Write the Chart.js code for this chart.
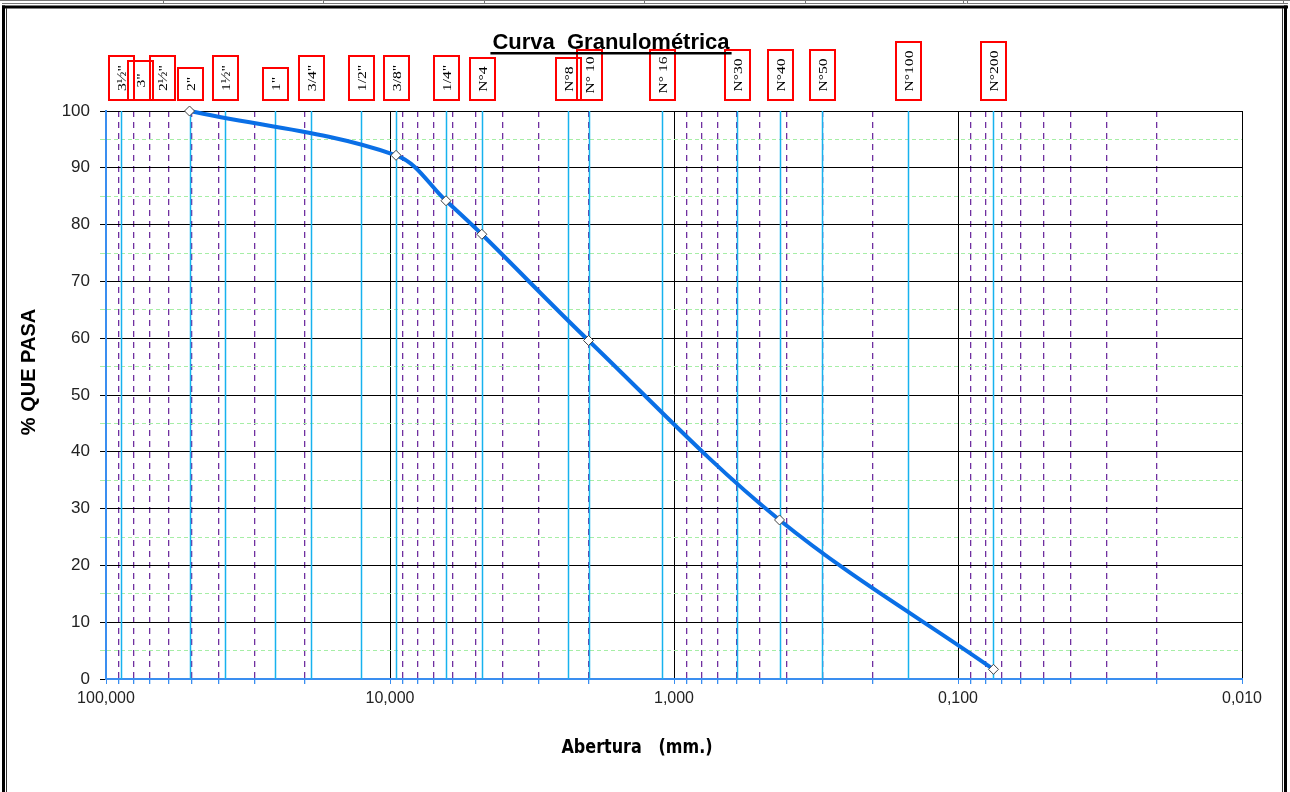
<!DOCTYPE html>
<html>
<head>
<meta charset="utf-8">
<script src="https://cdn.jsdelivr.net/npm/chart.js@4.4.1/dist/chart.umd.min.js"></script>
<style>
html, body { margin: 0; padding: 0; background: #fff; }
#grafico { display: block; }
</style>
</head>
<body>
<canvas id="grafico" width="1290" height="792"></canvas>
<script>
// Tamices: nombre y abertura (mm)
var TAMIZ_NOMBRES = ['3\u00BD"', '3"', '2\u00BD"', '2"', '1\u00BD"', '1"', '3/4"', '1/2"', '3/8"', '1/4"',
                     'N\u00B04', 'N\u00B08', 'N\u00B0 10', 'N\u00B0 16', 'N\u00B030', 'N\u00B040', 'N\u00B050', 'N\u00B0100', 'N\u00B0200'];
var TAMIZ_ABERTURA = [88.9, 76.2, 63.5, 50.8, 38.1, 25.4, 19.05, 12.7, 9.525, 6.35,
                      4.75, 2.36, 2.0, 1.1, 0.6, 0.425, 0.3, 0.15, 0.075];
// tamices que llevan linea vertical celeste
var TAMIZ_LINEA = [true, false, false, true, true, true, true, true, true, true,
                   true, true, true, true, true, true, true, true, true];

// Ensayo: abertura (mm) y % que pasa
var ENSAYO_ABERTURA = [50.8, 9.525, 6.35, 4.75, 2.0, 0.425, 0.075];
var ENSAYO_PASA = [100, 92.2, 84.2, 78.3, 59.6, 28.0, 1.7];

// Eje X: decadas con etiqueta, y multiplos para las lineas secundarias
var X_DECADAS = [100, 10, 1, 0.1, 0.01];
var X_MULTIPLOS = [1, 2, 3, 4, 5, 6, 7, 8, 9];
// Eje Y
var Y_MIN = 0, Y_MAX = 100, Y_PASO = 5;

var X_MARCAS = [100];
for (var d = 0; d < X_DECADAS.length - 1; d++) {
    for (var m = 0; m < X_MULTIPLOS.length; m++) {
        X_MARCAS.push(+(X_DECADAS[d + 1] * X_MULTIPLOS[m]).toPrecision(6));
    }
}

function esDecada(v) {
    var l = Math.log10(v);
    return Math.abs(l - Math.round(l)) < 1e-6;
}

// altura superior de cada caja roja (px)
var CAJA_TOP = [56, 61, 56, 68, 56, 68, 56, 56, 56, 56, 58, 58, 50, 50, 50, 50, 50, 42, 42];
var CAJA_BASE = 100;

var AZUL_EJE = '#3a8ef0';

// Fondo, marco y textos
var marco = {
    id: 'marco',
    beforeDraw: function (chart) {
        var c = chart.ctx;
        c.save();
        c.fillStyle = '#fff';
        c.fillRect(0, 0, chart.width, chart.height);
        // fila de tabla cortada arriba
        c.strokeStyle = '#777';
        c.lineWidth = 1;
        c.beginPath();
        c.moveTo(0, 0.5); c.lineTo(1290, 0.5);
        c.moveTo(2, 3.5); c.lineTo(1288, 3.5);
        [163, 323, 484, 644, 805, 963, 967, 1283].forEach(function (x) {
            c.moveTo(x + 0.5, 0); c.lineTo(x + 0.5, 4);
        });
        c.stroke();
        // marco grueso
        c.fillStyle = '#000';
        c.fillRect(2, 5.5, 1286, 3);
        c.fillRect(2, 5.5, 3, 800);
        c.fillRect(1284, 5.5, 3, 800);
        c.strokeStyle = '#333';
        c.beginPath();
        c.moveTo(6.5, 8); c.lineTo(6.5, 792);
        c.moveTo(1282.5, 8); c.lineTo(1282.5, 792);
        c.stroke();
        c.restore();
    },
    beforeDatasetsDraw: function (chart) {
        var c = chart.ctx, xs = chart.scales.x, a = chart.chartArea;
        c.save();
        c.strokeStyle = '#17b2ee';
        c.lineWidth = 1.5;
        for (var i = 0; i < TAMIZ_ABERTURA.length; i++) {
            if (!TAMIZ_LINEA[i]) continue;
            var x = Math.round(xs.getPixelForValue(TAMIZ_ABERTURA[i])) + 0.5;
            c.beginPath();
            c.moveTo(x, a.top);
            c.lineTo(x, a.bottom);
            c.stroke();
        }
        c.restore();
    },
    afterDraw: function (chart) {
        var c = chart.ctx, xs = chart.scales.x;
        c.save();
        // cajas de tamices
        for (var i = 0; i < TAMIZ_NOMBRES.length; i++) {
            var x = xs.getPixelForValue(TAMIZ_ABERTURA[i]);
            var top = CAJA_TOP[i];
            c.strokeStyle = '#ff0000';
            c.lineWidth = 2;
            c.strokeRect(Math.round(x) - 12, top, 25, CAJA_BASE - top);
            c.save();
            c.translate(Math.round(x) + 0.5, (top + CAJA_BASE) / 2);
            c.rotate(-Math.PI / 2);
            c.scale(1.2, 1);
            c.fillStyle = '#000';
            c.font = '13px "Liberation Serif", serif';
            c.textAlign = 'center';
            c.textBaseline = 'middle';
            c.fillText(TAMIZ_NOMBRES[i], 0, 1);
            c.restore();
        }
        // titulo
        c.fillStyle = '#000';
        c.font = 'bold 22px "Liberation Sans", Arial, sans-serif';
        c.textAlign = 'center';
        c.textBaseline = 'alphabetic';
        var t = 'Curva  Granulom\u00E9trica';
        c.fillText(t, 611, 49);
        var w = c.measureText(t).width;
        c.fillRect(611 - w / 2 - 2, 52, w + 4, 2.5);
        // titulo eje Y
        c.save();
        c.translate(29, 372);
        c.rotate(-Math.PI / 2);
        c.font = 'bold 20px "Liberation Sans", Arial, sans-serif';
        c.textBaseline = 'middle';
        c.fillText('% QUE PASA', 0, 0);
        c.restore();
        // titulo eje X
        c.save();
        c.translate(637, 748);
        c.scale(1, 1.2);
        c.font = 'bold 16px "DejaVu Sans", sans-serif';
        c.textBaseline = 'middle';
        c.fillText('Abertura   (mm.)', 0, 0);
        c.restore();
        c.restore();
    }
};

var ctx = document.getElementById('grafico').getContext('2d');
var grafico = new Chart(ctx, {
    type: 'line',
    data: {
        datasets: [{
            data: ENSAYO_ABERTURA.map(function (a, i) { return { x: a, y: ENSAYO_PASA[i] }; }),
            borderColor: '#0a6fe6',
            borderWidth: 4,
            tension: 0.35,
            fill: false,
            pointStyle: 'rectRot',
            pointRadius: 5,
            pointBackgroundColor: '#fff',
            pointBorderColor: '#444',
            pointBorderWidth: 1,
            clip: false
        }]
    },
    options: {
        responsive: false,
        animation: false,
        layout: { padding: { left: 46, right: 48, top: 111, bottom: 73 } },
        plugins: { legend: { display: false }, tooltip: { enabled: false } },
        scales: {
            x: {
                type: 'logarithmic',
                reverse: true,
                min: 0.01,
                max: 100,
                afterBuildTicks: function (s) {
                    s.ticks = X_MARCAS.map(function (v) { return { value: v }; });
                },
                afterFit: function (s) { s.height = 40; },
                grid: {
                    color: function (c) { return c.tick && esDecada(c.tick.value) ? '#000' : '#7030a0'; },
                    lineWidth: function (c) { return c.tick && esDecada(c.tick.value) ? 1 : 1.3; },
                    tickColor: AZUL_EJE,
                    tickLength: 5
                },
                border: {
                    color: AZUL_EJE,
                    width: 2,
                    dash: function (c) { return (c.tick && !esDecada(c.tick.value)) ? [6, 5] : []; }
                },
                ticks: {
                    autoSkip: false,
                    maxRotation: 0,
                    padding: 5,
                    color: '#222',
                    font: { family: '"Liberation Sans", Arial, sans-serif', size: 16 },
                    callback: function (v) { return esDecada(v) ? v.toFixed(3).replace('.', ',') : ''; }
                }
            },
            y: {
                min: Y_MIN,
                max: Y_MAX,
                afterFit: function (s) { s.width = 60; },
                grid: {
                    color: function (c) { return c.tick && c.tick.value % 10 === 0 ? '#000' : '#a6eea6'; },
                    tickLength: 6
                },
                border: {
                    color: AZUL_EJE,
                    width: 2,
                    dash: function (c) { return (c.tick && c.tick.value % 10 !== 0) ? [4, 3] : []; }
                },
                ticks: {
                    stepSize: Y_PASO,
                    autoSkip: false,
                    padding: 10,
                    color: '#222',
                    font: { family: '"Liberation Sans", Arial, sans-serif', size: 17 },
                    callback: function (v) { return v % 10 === 0 ? v : ''; }
                }
            }
        }
    },
    plugins: [marco]
});
</script>
</body>
</html>
